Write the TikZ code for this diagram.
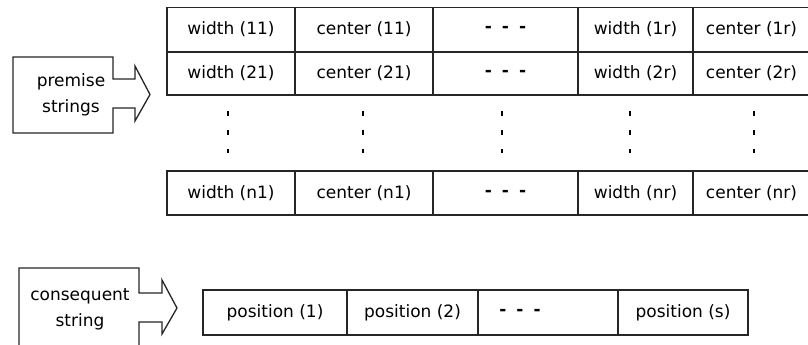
\documentclass[tikz,border=0pt]{standalone}
\usepackage{fontspec}
\setmainfont{DejaVu Sans}
\begin{document}
\begin{tikzpicture}[x=1pt,y=-1pt,
  line/.style={draw=black!85, line width=1.3pt},
  cell/.style={line, rectangle, inner sep=0pt, font=\fontsize{17}{21}\selectfont},
  lbl/.style={align=center, inner sep=0pt, font=\fontsize{17}{26}\selectfont},
  vdots/.style={draw=black, line width=2.8pt, dash pattern=on 5pt off 14pt},
  blockarrow/.style={line, fill=white, line join=miter}]
\useasboundingbox (0,0) rectangle (808,345);
\newcommand{\dsh}{{\bfseries -\kern10pt-\kern10pt-}}
% premise arrow
\draw[blockarrow] (13,57) -- (113,57) -- (113,79) -- (135,79) -- (135,66) -- (150,94.5)
  -- (135,121) -- (135,108) -- (113,108) -- (113,133) -- (13,133) -- cycle;
\node[lbl] (prem) at (71,94.5) {premise\\strings};
% consequent arrow
\draw[blockarrow] (19,268) -- (139,268) -- (139,293) -- (162,293) -- (162,280) -- (177,308)
  -- (162,334) -- (162,322) -- (139,322) -- (139,352) -- (19,352) -- cycle;
\node[lbl] (cons) at (80,309.5) {consequent\\string};
% top table row 1
\node[cell, minimum width=128pt, minimum height=44pt] (w11) at (231,29.5) {width (11)};
\node[cell, minimum width=138pt, minimum height=44pt] (c11) at (364,29.5) {center (11)};
\node[cell, minimum width=145pt, minimum height=44pt] (d1) at (505.5,29.5) {\dsh};
\node[cell, minimum width=115pt, minimum height=44pt] (w1r) at (635.5,29.5) {width (1r)};
\node[cell, minimum width=117pt, minimum height=44pt] (c1r) at (751.5,29.5) {center (1r)};
% row 2
\node[cell, minimum width=128pt, minimum height=43pt] (w21) at (231,73.5) {width (21)};
\node[cell, minimum width=138pt, minimum height=43pt] (c21) at (364,73.5) {center (21)};
\node[cell, minimum width=145pt, minimum height=43pt] (d2) at (505.5,73.5) {\dsh};
\node[cell, minimum width=115pt, minimum height=43pt] (w2r) at (635.5,73.5) {width (2r)};
\node[cell, minimum width=117pt, minimum height=43pt] (c2r) at (751.5,73.5) {center (2r)};
% row n
\node[cell, minimum width=128pt, minimum height=44pt] (wn1) at (231,193) {width (n1)};
\node[cell, minimum width=138pt, minimum height=44pt] (cn1) at (364,193) {center (n1)};
\node[cell, minimum width=145pt, minimum height=44pt] (dn) at (505.5,193) {\dsh};
\node[cell, minimum width=115pt, minimum height=44pt] (wnr) at (635.5,193) {width (nr)};
\node[cell, minimum width=117pt, minimum height=44pt] (cnr) at (751.5,193) {center (nr)};
% vertical dots
\foreach \x in {228,363,502,630,754} \draw[vdots] (\x,110.5) -- (\x,153);
% position row
\node[cell, minimum width=144pt, minimum height=45pt] (p1) at (275,312.5) {position (1)};
\node[cell, minimum width=131pt, minimum height=45pt] (p2) at (412.5,312.5) {position (2)};
\node[cell, minimum width=140pt, minimum height=45pt] (p3) at (548,312.5) {};
\node[lbl] (p3t) at (520,312.5) {\dsh};
\node[cell, minimum width=130pt, minimum height=45pt] (ps) at (683,312.5) {position (s)};
\end{tikzpicture}
\end{document}
